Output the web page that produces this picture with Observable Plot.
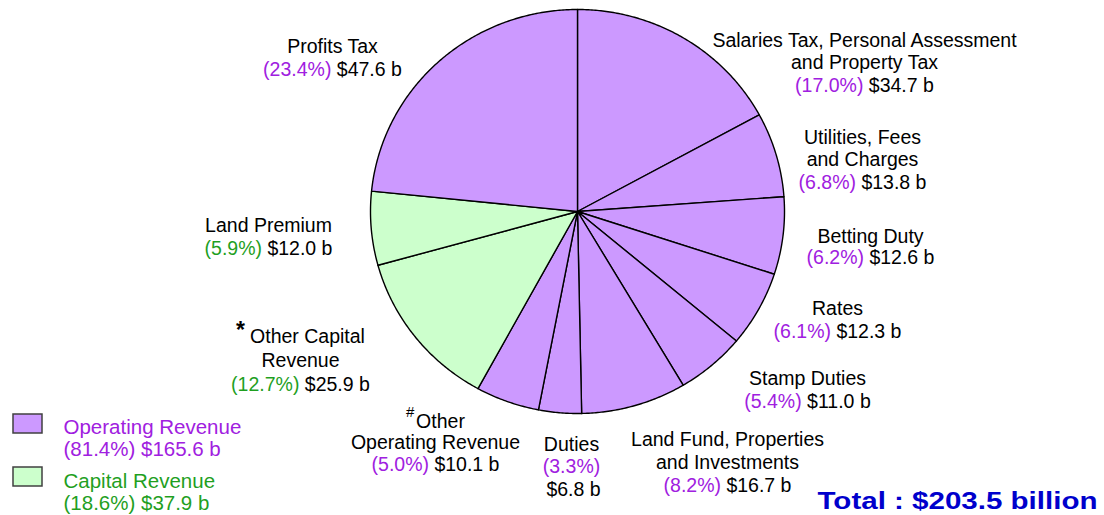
<!DOCTYPE html>
<html>
<head>
<meta charset="utf-8">
<script src="https://cdn.jsdelivr.net/npm/d3@7"></script>
<script src="https://cdn.jsdelivr.net/npm/@observablehq/plot@0.6"></script>
<style>
  html, body { margin: 0; padding: 0; background: #fff; }
  #chart svg { display: block; }
</style>
</head>
<body>
<div id="chart"></div>
<script>
// ---------------- DATA ----------------
const categories = [
  "Salaries Tax, Personal Assessment and Property Tax",
  "Utilities, Fees and Charges",
  "Betting Duty",
  "Rates",
  "Stamp Duties",
  "Land Fund, Properties and Investments",
  "Duties",
  "Other Operating Revenue",
  "Other Capital Revenue",
  "Land Premium",
  "Profits Tax"
];
const nameLines = [
  ["Salaries Tax, Personal Assessment", "and Property Tax"],
  ["Utilities, Fees", "and Charges"],
  ["Betting Duty"],
  ["Rates"],
  ["Stamp Duties"],
  ["Land Fund, Properties", "and Investments"],
  ["Duties"],
  ["Other", "Operating Revenue"],
  ["Other Capital", "Revenue"],
  ["Land Premium"],
  ["Profits Tax"]
];
const footMarks = ["", "", "", "", "", "", "", "#", "*", "", ""];
const values = [34.7, 13.8, 12.6, 12.3, 11.0, 16.7, 6.8, 10.1, 25.9, 12.0, 47.6]; // $ billion
const shares = [17.0, 6.8, 6.2, 6.1, 5.4, 8.2, 3.3, 5.0, 12.7, 5.9, 23.4];       // %
const groups = ["Operating", "Operating", "Operating", "Operating", "Operating", "Operating",
                "Operating", "Operating", "Capital", "Capital", "Operating"];

const groupKeys = ["Operating", "Capital"];
const groupNames = ["Operating Revenue", "Capital Revenue"];
const groupShares = [81.4, 18.6];
const groupValues = [165.6, 37.9];
const totalValue = 203.5;

// ---------------- LAYOUT / STYLE ----------------
const W = 1104, H = 515;
const pieGeom = {cx: 577, cy: 211, rx: 207, ry: 202};
const sliceFill = {Operating: "#cc99ff", Capital: "#ccffcc"};
const textColor = {Operating: "#a020e0", Capital: "#1f9f1f"};
const FONT = "'Liberation Sans', Arial, Helvetica, sans-serif";
const FS = 19.5;
// [centre x, first baseline, line height]
const labelLayout = [
  [864, 46, 22.5],
  [862, 143, 22.5],
  [870, 242, 21.5],
  [837, 314, 23],
  [807, 384, 23],
  [727, 445, 23],
  [571, 450, 22.5],
  [435, 427, 21.5],
  [300, 342, 24],
  [268, 231, 23],
  [332, 52, 23]
];
const splitValueLine = [false, false, false, false, false, false, true, false, false, false, false];
const supStyle = {
  "*": {size: 23, weight: "bold", dx: 14, rise: 5},
  "#": {size: 15, weight: "normal", dx: 10, rise: 11}
};
const legendLayout = {boxX1: 13, boxX2: 42, boxY: [414, 467], boxH: 19, textX: 63, baseY: [433, 487], lh: 22, fs: 20.5};
const totalLayout = {x: 1097, y: 508, fs: 24, len: 280};

// ---------------- HELPERS ----------------
const ctx = document.createElement("canvas").getContext("2d");
function textWidth(s, size, weight = "normal") {
  ctx.font = `${weight} ${size}px "Liberation Sans"`;
  return ctx.measureText(s).width;
}

// ---------------- PIE GEOMETRY (from values) ----------------
const arcs = d3.pie().sort(null).value(d => d)(values);
const wedgePts = [];
arcs.forEach((a, i) => {
  const g = groups[i];
  wedgePts.push({i, g, x: pieGeom.cx, y: pieGeom.cy});
  const n = Math.max(2, Math.ceil((a.endAngle - a.startAngle) / (Math.PI / 360)));
  for (let k = 0; k <= n; k++) {
    const t = a.startAngle + (a.endAngle - a.startAngle) * k / n;
    wedgePts.push({i, g, x: pieGeom.cx + pieGeom.rx * Math.sin(t), y: pieGeom.cy - pieGeom.ry * Math.cos(t)});
  }
});

// ---------------- LABEL TEXTS ----------------
const texts = [];
categories.forEach((c, i) => {
  const [cx, b0, lh] = labelLayout[i];
  const col = textColor[groups[i]];
  let b = b0;
  nameLines[i].forEach((line, j) => {
    if (j === 0 && footMarks[i]) {
      const s = supStyle[footMarks[i]];
      const w = textWidth(line, FS);
      const left = cx - (s.dx + w) / 2;
      texts.push({x: left, y: b - s.rise, text: footMarks[i], anchor: "start", size: s.size, weight: s.weight, color: "#000000"});
      texts.push({x: left + s.dx, y: b, text: line, anchor: "start", size: FS, weight: "normal", color: "#000000"});
    } else {
      texts.push({x: cx, y: b, text: line, anchor: "middle", size: FS, weight: "normal", color: "#000000"});
    }
    b += lh;
  });
  const pct = `(${shares[i].toFixed(1)}%)`;
  const val = `$${values[i].toFixed(1)} b`;
  if (splitValueLine[i]) {
    texts.push({x: cx, y: b, text: pct, anchor: "middle", size: FS, weight: "normal", color: col});
    b += lh;
    texts.push({x: cx + 2, y: b, text: val, anchor: "middle", size: FS, weight: "normal", color: "#000000"});
  } else {
    const wp = textWidth(pct, FS), ws = textWidth(" ", FS), wv = textWidth(val, FS);
    const left = cx - (wp + ws + wv) / 2;
    texts.push({x: left, y: b, text: pct, anchor: "start", size: FS, weight: "normal", color: col});
    texts.push({x: left + wp + ws, y: b, text: val, anchor: "start", size: FS, weight: "normal", color: "#000000"});
  }
});

// legend
const legendBoxes = groupKeys.map((g, k) => ({
  x1: legendLayout.boxX1, x2: legendLayout.boxX2,
  y1: legendLayout.boxY[k], y2: legendLayout.boxY[k] + legendLayout.boxH,
  fill: sliceFill[g]
}));
groupKeys.forEach((g, k) => {
  texts.push({x: legendLayout.textX, y: legendLayout.baseY[k], text: groupNames[k], anchor: "start", size: legendLayout.fs, weight: "normal", color: textColor[g]});
  texts.push({x: legendLayout.textX, y: legendLayout.baseY[k] + legendLayout.lh,
    text: `(${groupShares[k].toFixed(1)}%) $${groupValues[k].toFixed(1)} b`, anchor: "start", size: legendLayout.fs, weight: "normal", color: textColor[g]});
});

const textMarks = ["start", "middle", "end"].flatMap(anchor => ["normal", "bold"].map(weight =>
  Plot.text(texts.filter(d => d.anchor === anchor && d.weight === weight), {
    x: "x", y: "y", text: "text", fill: "color", fontSize: "size",
    textAnchor: anchor, lineAnchor: "bottom", fontWeight: weight, fontFamily: FONT
  })
));

const chart = Plot.plot({
  width: W, height: H, margin: 0,
  x: {domain: [0, W], range: [0, W], axis: null},
  y: {domain: [0, H], range: [0, H], axis: null},
  color: {type: "identity"},
  style: {fontFamily: FONT, background: "#ffffff", overflow: "visible"},
  marks: [
    Plot.line(wedgePts, {
      x: "x", y: "y", z: "i", fill: d => sliceFill[d.g],
      stroke: "#000000", strokeWidth: 1.4, strokeLinejoin: "round", curve: "linear-closed"
    }),
    Plot.rect(legendBoxes, {x1: "x1", x2: "x2", y1: "y1", y2: "y2", fill: "fill", stroke: "#404040", strokeWidth: 1.5}),
    ...textMarks,
    Plot.text([`Total : $${totalValue.toFixed(1)} billion`], {
      x: () => totalLayout.x, y: () => totalLayout.y, text: d => d,
      textAnchor: "end", lineAnchor: "bottom", fontSize: totalLayout.fs, fontWeight: "bold",
      fill: "#0000cc", fontFamily: FONT, className: "total-label"
    })
  ]
});
document.getElementById("chart").appendChild(chart);
// stretch the total label to the reference's wide lettering
chart.querySelectorAll(".total-label text").forEach(t => {
  t.setAttribute("textLength", totalLayout.len);
  t.setAttribute("lengthAdjust", "spacingAndGlyphs");
});
</script>
</body>
</html>
